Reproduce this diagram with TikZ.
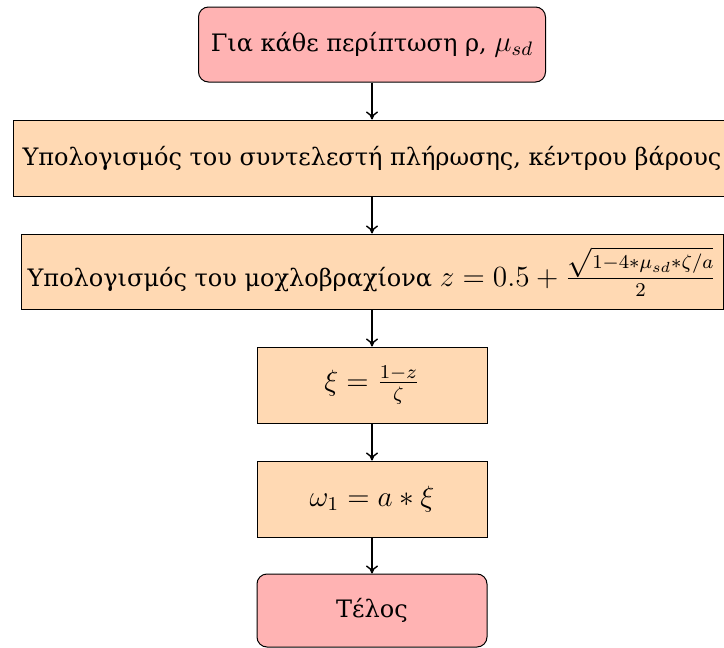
\documentclass[tikz,border=0pt]{standalone}
\usepackage{fontspec}
\setmainfont{DejaVu Serif}
\usetikzlibrary{arrows.meta}
\definecolor{startc}{RGB}{255,179,179}
\definecolor{procc}{RGB}{255,217,179}
\newcommand{\mymath}[1]{\scalebox{1.22}{$#1$}}
\begin{document}
\begin{tikzpicture}[x=0.5pt,y=-0.5pt, font=\fontsize{12}{14}\selectfont,
  startstop/.style={rectangle, rounded corners=5pt, draw=black, fill=startc, inner sep=0pt, line width=0.5pt},
  process/.style={rectangle, draw=black, fill=procc, inner sep=0pt, line width=0.5pt},
  arr/.style={-{To[length=4pt,width=6pt]}, line width=0.7pt}]
\useasboundingbox (0,0) rectangle (724,648);
\clip (0,0) rectangle (724,648);
\node[startstop, minimum width=173.5pt, minimum height=37.5pt] (start) at (372,44.5) {Για κάθε περίπτωση ρ, \mymath{\mu_{sd}}};
\node[process, minimum width=359pt, minimum height=38pt] (b2) at (372,158) {Υπολογισμός του συντελεστή πλήρωσης, κέντρου βάρους};
\node[process, minimum width=351pt, minimum height=37.5pt] (b3) at (372,271.5) {Υπολογισμός του μοχλοβραχίονα \mymath{z = 0.5 + \frac{\sqrt{1-4*\mu_{sd}*\zeta/a}}{2}}};
\node[process, minimum width=115pt, minimum height=38pt] (b4) at (372,385) {\mymath{\xi = \frac{1-z}{\zeta}}};
\node[process, minimum width=115pt, minimum height=38pt] (b5) at (372,499) {\mymath{\omega_1 = a*\xi}};
\node[startstop, minimum width=115pt, minimum height=36.5pt] (b6) at (372,610.5) {Τέλος};
\draw[arr] (start) -- (b2);
\draw[arr] (b2) -- (b3);
\draw[arr] (b3) -- (b4);
\draw[arr] (b4) -- (b5);
\draw[arr] (b5) -- (b6);
\end{tikzpicture}
\end{document}
